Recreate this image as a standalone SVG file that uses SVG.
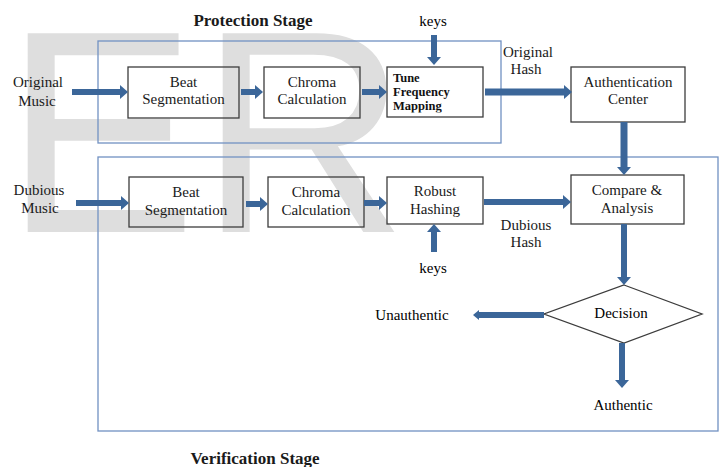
<svg xmlns="http://www.w3.org/2000/svg" width="720" height="467" viewBox="0 0 720 467">
<style>
.wm{font-family:"Liberation Sans",Arial,sans-serif;font-size:289px;fill:#dedede}
.frame{fill:none;stroke:#7191c2;stroke-width:1.3}
.box{fill:none;stroke:#3c3c3c;stroke-width:1.3}
.t{font-family:"Liberation Serif","Times New Roman",serif;font-size:15px;fill:#1a1a1a;text-anchor:middle}
.b{font-weight:bold}
.dk{fill:#000}
.title{font-size:17px}
.tf{font-family:"Liberation Serif","Times New Roman",serif;font-size:12.5px;font-weight:bold;fill:#111}
.arr{stroke:#3b6699;stroke-width:6;fill:none;marker-end:url(#ah)}
.arrs{stroke:#3b6699;stroke-width:6;fill:none;marker-end:url(#ahs)}
</style>
<defs>
<marker id="ah" markerUnits="userSpaceOnUse" markerWidth="10" markerHeight="16" refX="0" refY="7" orient="auto"><path d="M0,0 L8,7 L0,14 z" fill="#3b6699"/></marker>
<marker id="ahs" markerUnits="userSpaceOnUse" markerWidth="8" markerHeight="12" refX="0" refY="5" orient="auto"><path d="M0,0 L6,5 L0,10 z" fill="#3b6699"/></marker>
<clipPath id="tuneclip"><rect x="387" y="67" width="96" height="45.5"/></clipPath>
</defs>
<rect width="720" height="467" fill="#fff"/>
<text class="wm" x="4 199" y="232">ER</text>
<g id="frames">
<rect class="frame" x="98" y="41" width="403" height="102"/>
<rect class="frame" x="98" y="157" width="620" height="274"/>
</g>
<g id="titles">
<text class="t b title" x="253" y="26">Protection Stage</text>
<text class="t b title" x="255" y="464">Verification Stage</text>
</g>
<g id="original-music"><text class="t" x="38" y="87">Original</text><text class="t" x="37" y="106">Music</text></g>
<g id="dubious-music"><text class="t" x="39" y="195">Dubious</text><text class="t" x="40" y="213">Music</text></g>
<g id="beat-seg-1"><rect class="box" x="128" y="67" width="111" height="51"/><text class="t" x="183.5" y="87">Beat</text><text class="t" x="183.5" y="104">Segmentation</text></g>
<g id="chroma-1"><rect class="box" x="264" y="67" width="96" height="51"/><text class="t" x="312" y="87">Chroma</text><text class="t" x="312" y="104">Calculation</text></g>
<g id="tune-freq"><rect class="box" x="387" y="67" width="96" height="50"/><g clip-path="url(#tuneclip)"><text class="tf" x="393" y="82">Tune</text><text class="tf" x="393" y="96">Frequency</text><text class="tf" x="393" y="110">Mapping</text></g></g>
<g id="auth-center"><rect class="box" x="571" y="67" width="114" height="55"/><text class="t" x="628" y="87">Authentication</text><text class="t" x="628" y="104">Center</text></g>
<g id="beat-seg-2"><rect class="box" x="129" y="177" width="114" height="50"/><text class="t" x="186" y="197">Beat</text><text class="t" x="186" y="215">Segmentation</text></g>
<g id="chroma-2"><rect class="box" x="268" y="177" width="96" height="50"/><text class="t" x="316" y="197">Chroma</text><text class="t" x="316" y="215">Calculation</text></g>
<g id="robust-hash"><rect class="box" x="387" y="177" width="96" height="47"/><text class="t" x="435" y="196">Robust</text><text class="t" x="435" y="214">Hashing</text></g>
<g id="compare"><rect class="box" x="571" y="175" width="113" height="49"/><text class="t" x="627" y="195">Compare &amp;</text><text class="t" x="627" y="213">Analysis</text></g>
<g id="decision"><polygon class="box" points="624,285 702,314 624,343 544,314"/><text class="t dk" x="621" y="318">Decision</text></g>
<g id="keys-top"><text class="t dk" x="433" y="26">keys</text></g>
<g id="keys-bottom"><text class="t dk" x="433" y="273">keys</text></g>
<g id="original-hash"><text class="t" x="528" y="57">Original</text><text class="t" x="526" y="74">Hash</text></g>
<g id="dubious-hash"><text class="t" x="526" y="230">Dubious</text><text class="t" x="526" y="247">Hash</text></g>
<g id="unauthentic"><text class="t dk" x="412" y="320">Unauthentic</text></g>
<g id="authentic"><text class="t dk" x="623" y="410">Authentic</text></g>
<g id="connectors">
<line class="arr" x1="72" y1="92" x2="120" y2="92"/>
<line class="arr" x1="241" y1="92" x2="255" y2="92"/>
<line class="arr" x1="362" y1="92" x2="379" y2="92"/>
<line class="arr" x1="485" y1="92" x2="564" y2="92" style="stroke-width:7"/>
<line class="arr" x1="434" y1="35" x2="434" y2="57"/>
<line class="arr" x1="624" y1="122" x2="624" y2="167" style="stroke-width:7"/>
<line class="arr" x1="76" y1="203" x2="121" y2="203"/>
<line class="arr" x1="246" y1="204" x2="260" y2="204"/>
<line class="arr" x1="364" y1="203" x2="379" y2="203"/>
<line class="arr" x1="484" y1="202" x2="563" y2="202"/>
<line class="arr" x1="434" y1="252" x2="434" y2="232"/>
<line class="arr" x1="624" y1="224" x2="624" y2="277"/>
<line class="arrs" x1="544" y1="315" x2="479" y2="315"/>
<line class="arr" x1="622" y1="343" x2="622" y2="380"/>
</g>
</svg>
